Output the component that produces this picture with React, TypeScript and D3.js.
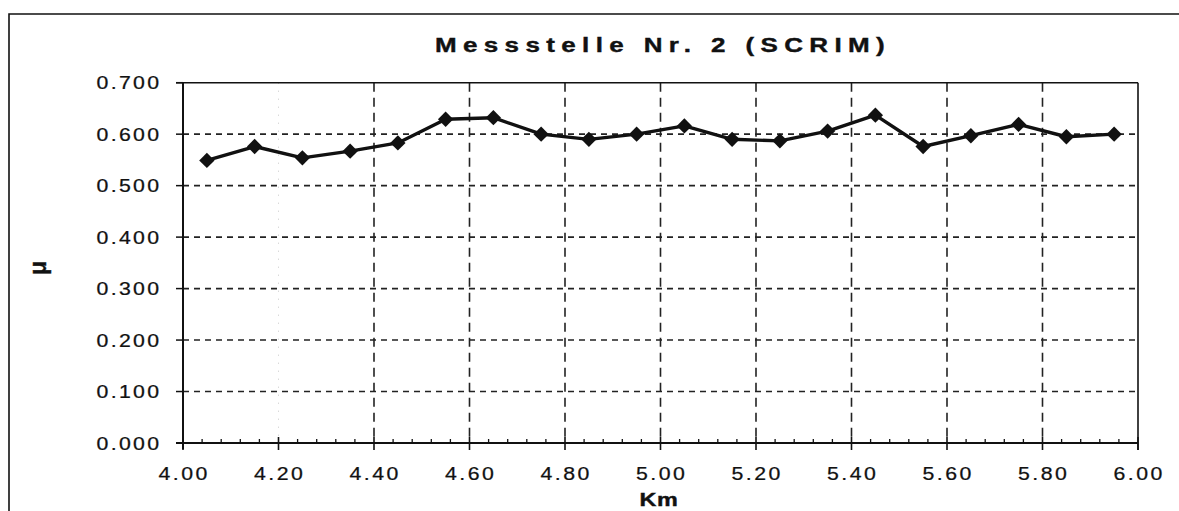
import React from "react";
import * as d3 from "d3";

const title = "Messstelle Nr. 2 (SCRIM)";
const xLabel = "Km";
const yLabel = "μ";
const kmValues = [4.05, 4.15, 4.25, 4.35, 4.45, 4.55, 4.65, 4.75, 4.85, 4.95, 5.05, 5.15, 5.25, 5.35, 5.45, 5.55, 5.65, 5.75, 5.85, 5.95];
const muValues = [0.549, 0.576, 0.554, 0.567, 0.583, 0.629, 0.632, 0.600, 0.590, 0.600, 0.616, 0.590, 0.587, 0.606, 0.637, 0.576, 0.597, 0.619, 0.595, 0.600];
const xTicks = [4.0, 4.2, 4.4, 4.6, 4.8, 5.0, 5.2, 5.4, 5.6, 5.8, 6.0];
const yTicks = [0, 0.1, 0.2, 0.3, 0.4, 0.5, 0.6, 0.7];

const W = 1179;
const H = 511;
const left = 183;
const right = 1138;
const top = 82.7;
const bottom = 443;
const SX = 1.3;
const SXT = 1.15;
const LS = 2;

export default function App() {
  const x = d3.scaleLinear().domain([4, 6]).range([left, right]);
  const y = d3.scaleLinear().domain([0, 0.7]).range([bottom, top]);
  const line = d3
    .line<number>()
    .x((_, i) => x(kmValues[i]))
    .y((d) => y(d));
  const minorTicks = d3.range(0, 51).map((i) => 4 + i * 0.04).filter((v) => Math.abs(((v - 4) / 0.2) - Math.round((v - 4) / 0.2)) > 1e-6);
  const font = "'Liberation Sans', Arial, sans-serif";
  const ink = "#111";
  const diamond = d3.symbol().type(d3.symbolDiamond2).size(150)();
  const textStroke = { stroke: ink, strokeWidth: 0.4 };
  const tickStroke = { stroke: ink, strokeWidth: 0.25 };
  return (
    <div style={{ position: "absolute", left: 0, top: 0 }}>
      <svg width={W} height={H} style={{ display: "block", background: "#fff" }}>
        {/* outer frame */}
        <path d={`M9,${H + 2} L9,14 L${W + 2},14`} fill="none" stroke={ink} strokeWidth={1.6} />
        {/* title */}
        <text transform={`translate(663,52) scale(${SX},1)`} textAnchor="middle" fontFamily={font} fontWeight="bold" fontSize={20} letterSpacing={4.9} fill={ink} {...textStroke}>
          {title}
        </text>
        {/* horizontal grid */}
        {yTicks.filter((t) => t > 0 && t < 0.7).map((t) => (
          <line key={"hg" + t} x1={left} x2={right} y1={y(t)} y2={y(t)} stroke="#222" strokeWidth={1.6} strokeDasharray="6,5" />
        ))}
        {/* vertical grid */}
        {xTicks.filter((t) => t > 4.01 && t < 5.99).map((t) => (
          <line
            key={"vg" + t}
            x1={x(t)}
            x2={x(t)}
            y1={top}
            y2={bottom}
            stroke={Math.abs(t - 4.2) < 1e-6 ? "#bbb" : "#222"}
            strokeWidth={Math.abs(t - 4.2) < 1e-6 ? 0.8 : 1.6}
            strokeDasharray={Math.abs(t - 4.2) < 1e-6 ? "1,7" : "9,6"}
          />
        ))}
        {/* plot border */}
        <line x1={left - 7} x2={right} y1={top} y2={top} stroke={ink} strokeWidth={1.6} />
        <line x1={right} x2={right} y1={top} y2={bottom + 7} stroke={ink} strokeWidth={1.6} />
        <line x1={left} x2={left} y1={top} y2={bottom + 6} stroke={ink} strokeWidth={2} />
        <line x1={left - 7} x2={right} y1={bottom} y2={bottom} stroke={ink} strokeWidth={2} />
        {/* y ticks */}
        {yTicks.map((t) => (
          <g key={"yt" + t}>
            <line x1={left - 7} x2={left} y1={y(t)} y2={y(t)} stroke={ink} strokeWidth={1.5} />
            <text transform={`translate(${159 + LS * SXT},${y(t) + 6.7}) scale(${SXT},1)`} textAnchor="end" fontFamily={font} fontSize={18.5} letterSpacing={LS} fill={ink} {...tickStroke}>
              {d3.format(".3f")(t)}
            </text>
          </g>
        ))}
        {/* x ticks */}
        {xTicks.map((t) => (
          <g key={"xt" + t}>
            <line x1={x(t)} x2={x(t)} y1={bottom - 6} y2={bottom + 7} stroke={ink} strokeWidth={1.6} />
            <text transform={`translate(${x(t) + (LS * SXT) / 2},480) scale(${SXT},1)`} textAnchor="middle" fontFamily={font} fontSize={18.5} letterSpacing={LS + 0.2} fill={ink} {...tickStroke}>
              {d3.format(".2f")(t)}
            </text>
          </g>
        ))}
        {minorTicks.map((t) => (
          <line key={"mt" + t} x1={x(t)} x2={x(t)} y1={bottom - 4} y2={bottom} stroke={ink} strokeWidth={1.3} />
        ))}
        {/* axis titles */}
        <text transform={`translate(659,506) scale(${SX},1)`} textAnchor="middle" fontFamily={font} fontWeight="bold" fontSize={18} letterSpacing={0.5} fill={ink} {...textStroke}>
          {xLabel}
        </text>
        <text
          transform={`translate(46,268) rotate(-90)`}
          textAnchor="middle"
          fontFamily={font}
          fontWeight="bold"
          fontSize={23}
          fill={ink}
          {...textStroke}
        >
          {yLabel}
        </text>
        {/* series */}
        <path d={line(muValues) || ""} fill="none" stroke={ink} strokeWidth={3.4} strokeLinejoin="round" />
        {muValues.map((v, i) => (
          <path key={"pt" + i} d={diamond || ""} transform={`translate(${x(kmValues[i])},${y(v)})`} fill={ink} />
        ))}
      </svg>
    </div>
  );
}
